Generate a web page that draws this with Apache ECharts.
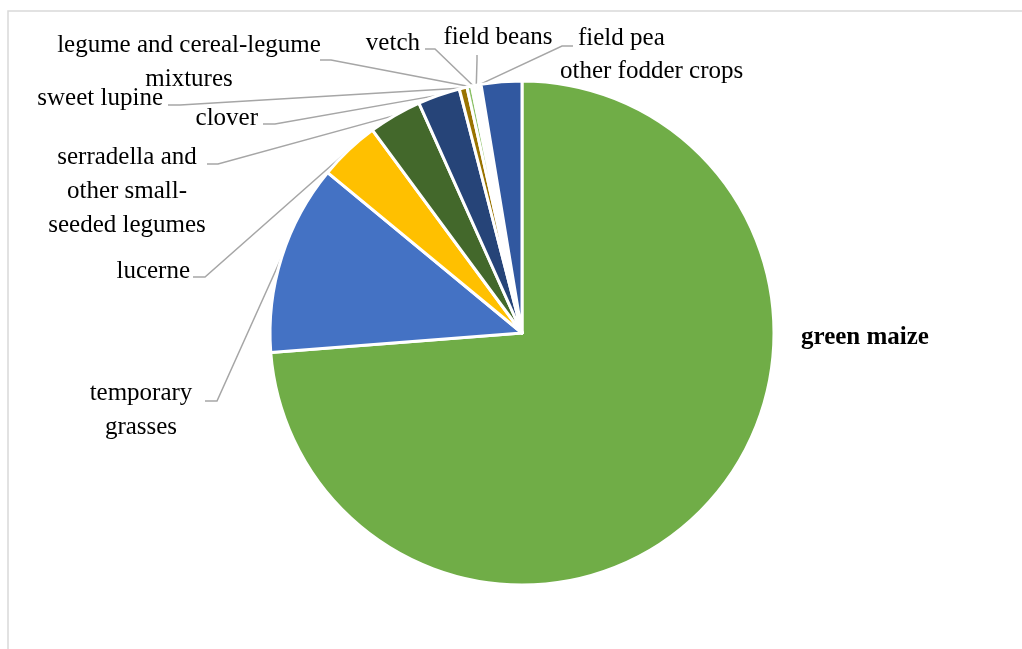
<!DOCTYPE html>
<html>
<head>
<meta charset="utf-8">
<title>Fodder crops</title>
<script src="https://cdn.jsdelivr.net/npm/echarts@6/dist/echarts.min.js"></script>
<style>
  html, body { margin: 0; padding: 0; background: #fff; }
  #chart { width: 1022px; height: 649px; }
</style>
</head>
<body>
<div id="chart"></div>
<script>
// crop categories, clockwise from 12 o'clock
const categories = [
  'green maize',
  'temporary grasses',
  'lucerne',
  'serradella and other small-seeded legumes',
  'clover',
  'sweet lupine',
  'legume and cereal-legume mixtures',
  'vetch',
  'field beans',
  'field pea',
  'other fodder crops'
];
// share of area, %
const shares = [73.7, 12.2, 3.9, 3.4, 2.7, 0.5, 0.3, 0.2, 0.2, 0.2, 2.6];
// label texts as wrapped in the picture
const labelTexts = [
  'green maize',
  'temporary\ngrasses',
  'lucerne',
  'serradella and\nother small-\nseeded legumes',
  'clover',
  'sweet lupine',
  'legume and cereal-legume\nmixtures',
  'vetch',
  'field beans',
  'field pea',
  'other fodder crops'
];
const sliceColors = [
  '#70AD47', '#4472C4', '#FFC000', '#43682B', '#264478', '#997300',
  '#8CC168', '#F2F7EE', '#EEF2FA', '#FDF3EC', '#3158A0'
];

// where each label sits and how its leader line bends (x, y in px)
const labelSpots = [
  { x: 801, y: 338, align: 'left', va: 'middle', line: null },
  { x: 141, y: 376, align: 'center', va: 'top', line: [[217, 401], [205, 401]] },
  { x: 190, y: 271, align: 'right', va: 'middle', line: [[205, 277], [193, 277]] },
  { x: 127, y: 140, align: 'center', va: 'top', line: [[218, 164], [207, 164]] },
  { x: 258, y: 118, align: 'right', va: 'middle', line: [[275, 124], [263, 124]] },
  { x: 163, y: 98, align: 'right', va: 'middle', line: [[180, 105], [168, 105]] },
  { x: 189, y: 28, align: 'center', va: 'top', line: [[331, 60], [320, 60]] },
  { x: 420, y: 43, align: 'right', va: 'middle', line: [[435, 49], [425, 49]] },
  { x: 498, y: 37, align: 'center', va: 'middle', line: [[477, 60], [477, 55]] },
  { x: 578, y: 38, align: 'left', va: 'middle', line: [[562, 46], [573, 46]] },
  { x: 560, y: 71, align: 'left', va: 'middle', line: null }
];

const chart = echarts.init(document.getElementById('chart'));

const pieData = categories.map((name, i) => {
  const item = {
    name: name,
    value: shares[i],
    itemStyle: { color: sliceColors[i] }
  };
  if (!labelSpots[i].line) {
    item.labelLine = { show: false };
  }
  if (i === 0) {
    item.label = { fontWeight: 'bold' };
  }
  return item;
});

const option = {
  animation: false,
  backgroundColor: '#fff',
  graphic: [
    {
      type: 'rect',
      shape: { x: 8, y: 11, width: 1100, height: 700 },
      style: { fill: 'none', stroke: '#D9D9D9', lineWidth: 1.5 },
      silent: true
    }
  ],
  series: [
    {
      type: 'pie',
      center: [522, 333],
      radius: 252,
      startAngle: 90,
      clockwise: true,
      avoidLabelOverlap: false,
      itemStyle: { borderColor: '#fff', borderWidth: 3 },
      label: {
        show: true,
        position: 'outside',
        fontFamily: '"Liberation Serif", "DejaVu Serif", serif',
        fontSize: 25,
        lineHeight: 34,
        color: '#000',
        formatter: (p) => labelTexts[p.dataIndex]
      },
      labelLine: {
        show: true,
        length: 10,
        length2: 10,
        lineStyle: { color: '#A6A6A6', width: 1.5 }
      },
      labelLayout: (params) => {
        const spot = labelSpots[params.dataIndex];
        const out = { x: spot.x, y: spot.y, align: spot.align, verticalAlign: spot.va };
        const pts = params.labelLinePoints;
        if (spot.line && pts && pts.length) {
          out.labelLinePoints = [pts[0], spot.line[0], spot.line[1]];
        }
        return out;
      },
      emphasis: { disabled: true },
      data: pieData
    }
  ]
};

chart.setOption(option);
</script>
</body>
</html>
